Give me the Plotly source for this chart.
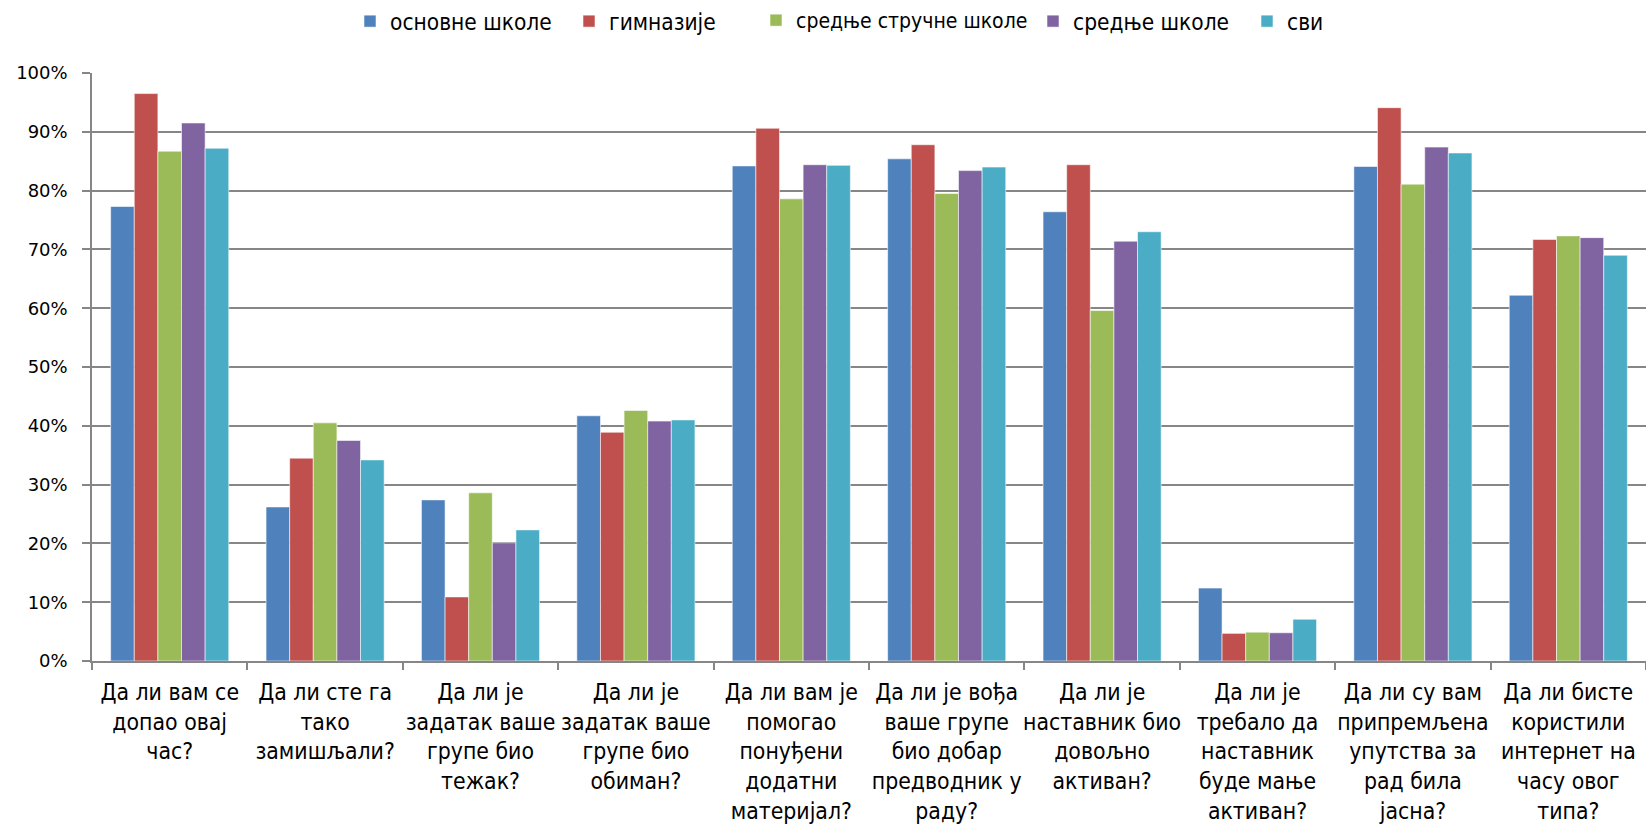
import plotly.graph_objects as go

questions = [
    "Да ли вам се<br>допао овај<br>час?",
    "Да ли сте га<br>тако<br>замишљали?",
    "Да ли је<br>задатак ваше<br>групе био<br>тежак?",
    "Да ли је<br>задатак ваше<br>групе био<br>обиман?",
    "Да ли вам је<br>помогао<br>понуђени<br>додатни<br>материјал?",
    "Да ли је вођа<br>ваше групе<br>био добар<br>предводник у<br>раду?",
    "Да ли је<br>наставник био<br>довољно<br>активан?",
    "Да ли је<br>требало да<br>наставник<br>буде мање<br>активан?",
    "Да ли су вам<br>припремљена<br>упутства за<br>рад била<br>јасна?",
    "Да ли бисте<br>користили<br>интернет на<br>часу овог<br>типа?",
]

osnovne = [0.773, 0.262, 0.274, 0.417, 0.842, 0.854, 0.764, 0.124, 0.841, 0.622]
gimnazije = [0.965, 0.345, 0.109, 0.389, 0.906, 0.878, 0.844, 0.047, 0.941, 0.717]
strucne = [0.867, 0.405, 0.286, 0.426, 0.786, 0.795, 0.596, 0.049, 0.811, 0.723]
srednje = [0.915, 0.375, 0.201, 0.408, 0.844, 0.834, 0.714, 0.048, 0.874, 0.720]
svi = [0.872, 0.342, 0.223, 0.410, 0.843, 0.840, 0.730, 0.071, 0.864, 0.690]

series = [
    ("основне школе", osnovne, "#4F81BD"),
    ("гимназије", gimnazije, "#C0504D"),
    ("средње стручне школе", strucne, "#9BBB59"),
    ("средње школе", srednje, "#8064A2"),
    ("сви", svi, "#4BACC6"),
]

W, H = 1646, 829
label_font = "Liberation Sans Narrow, DejaVu Sans Condensed, Roboto Condensed, Arial Narrow, sans-serif"
axis_gray = "#868686"

# one legend box per series so the entries sit at their own left offsets (px)
legend_left_px = [350, 569, 756, 1033, 1247]
legend_font_size = [22.5, 22.5, 21, 22.5, 22.5]

fig = go.Figure()
legend_layouts = {}
for i, (name, vals, color) in enumerate(series):
    key = "legend" if i == 0 else f"legend{i + 1}"
    fig.add_trace(go.Bar(
        name=name,
        x=questions,
        y=vals,
        legend=key,
        marker=dict(color=color, line=dict(color="rgba(255,255,255,0.55)", width=1)),
    ))
    legend_layouts[key] = dict(
        orientation="h",
        xref="container", x=legend_left_px[i] / W, xanchor="left",
        yref="container", y=1.0, yanchor="top",
        bgcolor="rgba(0,0,0,0)",
        font=dict(family=label_font, size=legend_font_size[i], color="#000000"),
    )

fig.update_layout(
    width=W,
    height=H,
    margin=dict(l=92, r=0, t=73, b=168),
    paper_bgcolor="white",
    plot_bgcolor="white",
    barmode="group",
    bargap=0.24,
    bargroupgap=0,
    showlegend=True,
    xaxis=dict(
        type="category",
        showgrid=False,
        showline=True,
        linecolor=axis_gray,
        linewidth=1.5,
        ticks="outside",
        tickson="boundaries",
        ticklen=7,
        tickcolor=axis_gray,
        tickwidth=1.5,
        tickangle=0,
        ticklabelstandoff=10,
        tickfont=dict(family=label_font, size=22.8, color="#000000"),
        range=[-0.5, 9.5],
    ),
    yaxis=dict(
        range=[0, 1],
        dtick=0.1,
        tickformat=".0%",
        showgrid=True,
        gridcolor=axis_gray,
        gridwidth=1.5,
        showline=True,
        linecolor=axis_gray,
        linewidth=1.5,
        ticks="outside",
        ticklen=8,
        tickcolor=axis_gray,
        tickwidth=1.5,
        ticklabelstandoff=11,
        tickfont=dict(family="DejaVu Sans, Verdana, sans-serif", size=18, color="#000000"),
        zeroline=False,
    ),
    **legend_layouts,
)

fig.write_html("out.html")
